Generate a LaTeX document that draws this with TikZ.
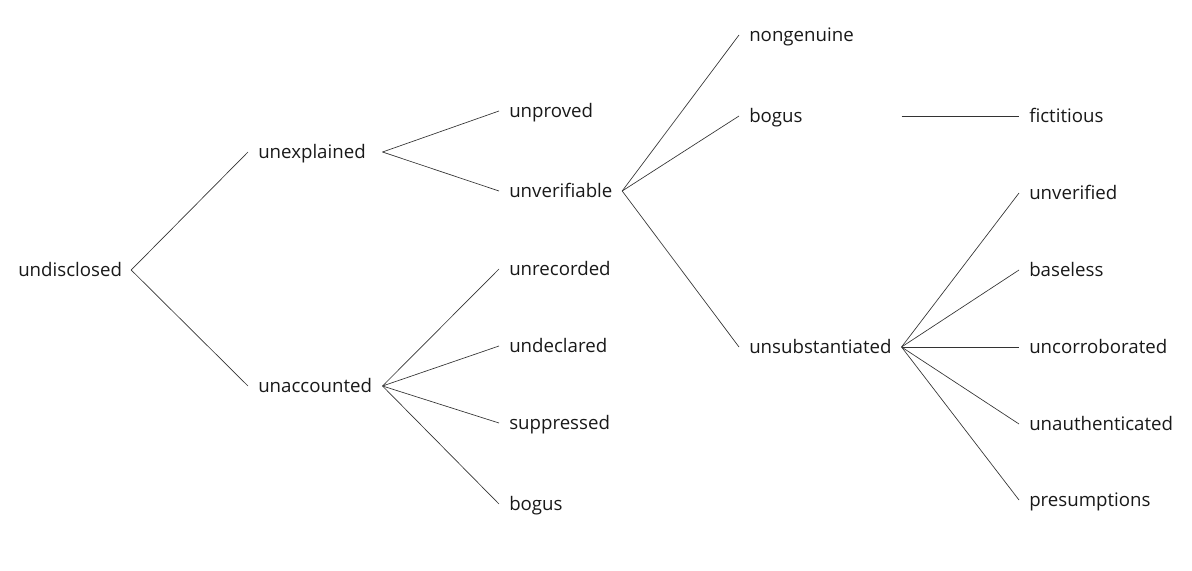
\documentclass[tikz,border=0pt]{standalone}
\usepackage{fontspec}
\setmainfont{Open Sans}

\begin{document}
\begin{tikzpicture}[x=0.75pt, y=-0.75pt,
    every node/.style={anchor=west, inner xsep=7.5pt, inner ysep=0pt, text height=10pt, text depth=0pt, font=\fontsize{14}{16}\selectfont, text=black!90},
    cola/.style={text width=77pt},
    colb/.style={text width=85.5pt},
    colc/.style={text width=77pt},
    cold/.style={text width=106.5pt},
    branch/.style={line width=0.5pt, draw=black!80}]
				\useasboundingbox (0,0) rectangle (1192,571);

				\node (undisclosed) at (8,270) [cola] {undisclosed};

				\node (unexplained) at (248,152) [colb] {unexplained};
				\node (unaccounted) at (248,386) [colb] {unaccounted};

				\node (unproved) at (499,111) [colc] {unproved};
				\node (unverifiable) at (499,191) [colc] {unverifiable};
				\node (unrecorded) at (499,269) [colc] {unrecorded};
				\node (undeclared) at (499,346) [colc] {undeclared};
				\node (suppressed) at (499,423) [colc] {suppressed};
				\node (bogusb) at (499,504) [colc] {bogus};

				\node (nongenuine) at (739,35) [cold] {nongenuine};
				\node (bogusc) at (739,116) [cold] {bogus};
				\node (unsubstantiated) at (739,347) [cold] {unsubstantiated};

				\node (fictitious) at (1019,116) [] {fictitious};
				\node (unverified) at (1019,193) [] {unverified};
				\node (baseless) at (1019,270) [] {baseless};
				\node (uncorroborated) at (1019,347) [] {uncorroborated};
				\node (unauthenticated) at (1019,424) [] {unauthenticated};
				\node (presumptions) at (1019,500) [] {presumptions};

				\draw[branch] (undisclosed.east) -- (unexplained.west);
				\draw[branch] (undisclosed.east) -- (unaccounted.west);

				\draw[branch] (unexplained.east) -- (unproved.west);
				\draw[branch] (unexplained.east) -- (unverifiable.west);
				\foreach \leaf in {unrecorded, undeclared, suppressed, bogusb}
					\draw[branch] (unaccounted.east) -- (\leaf.west);

				\foreach \leaf in {nongenuine, bogusc, unsubstantiated}
					\draw[branch] (unverifiable.east) -- (\leaf.west);

				\draw[branch] (bogusc.east) -- (fictitious.west);
				\foreach \leaf in {unverified, baseless, uncorroborated, unauthenticated, presumptions}
					\draw[branch] (unsubstantiated.east) -- (\leaf.west);
			\end{tikzpicture}
\end{document}
